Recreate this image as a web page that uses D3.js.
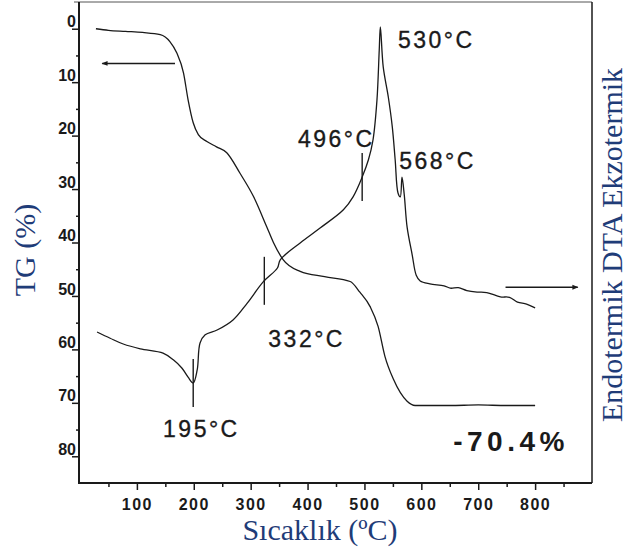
<!DOCTYPE html>
<html>
<head>
<meta charset="utf-8">
<script src="https://cdn.jsdelivr.net/npm/d3@7"></script>
<style>
  body { margin: 0; background: #fff; }
  svg { display: block; }
</style>
</head>
<body>
<svg id="chart" width="627" height="556"></svg>
<script>
// TG curve: temperature (°C) -> mass loss (%)
const tgTemp = [28, 50, 80, 110, 141, 158, 170, 182, 190, 199, 208, 223, 240, 258, 281, 305, 328, 340, 357, 387, 430, 475, 492, 510, 524, 536, 551, 575, 589, 650, 700, 750, 800];
const tgLoss = [0.0, 0.3, 0.5, 0.7, 1.1, 2.4, 4.5, 8.3, 13.3, 17.6, 19.8, 21.1, 22.1, 23.2, 27.0, 31.4, 37.0, 40.0, 43.2, 45.4, 46.4, 47.3, 49.3, 52.0, 55.7, 61.3, 65.6, 69.7, 70.5, 70.5, 70.4, 70.5, 70.5];

// DTA curve: temperature (°C) -> signal (a.u., exo up)
const dtaTemp = [30, 53, 76, 106, 146, 164, 179, 190, 199, 206, 211, 220, 241, 269, 294, 322, 347, 352, 387, 422, 463, 480, 496, 507, 515, 522, 526, 528, 533, 542, 549, 554, 559, 563, 566, 570, 575, 584, 591, 598, 615, 640, 651, 665, 680, 698, 715, 739, 755, 769, 785, 800];
const dtaSignal = [31.4, 30.1, 28.9, 27.9, 27.0, 25.6, 23.9, 22.0, 20.8, 23.5, 29.1, 30.8, 31.8, 33.9, 37.4, 41.8, 44.7, 46.4, 49.9, 53.0, 56.8, 59.5, 63.6, 67.2, 71.3, 79.6, 90.0, 94.8, 86.5, 80.2, 74.0, 67.2, 60.3, 59.5, 63.6, 59.9, 53.2, 47.4, 43.2, 42.0, 41.4, 41.0, 40.5, 40.6, 40.0, 39.7, 39.6, 38.7, 38.6, 37.6, 37.2, 36.4];

const xTicks = [100, 200, 300, 400, 500, 600, 700, 800];
const xMinorTicks = [50, 150, 250, 350, 450, 550, 650, 750, 850];
const yTicks = [0, 10, 20, 30, 40, 50, 60, 70, 80];
const yMinorTicks = [5, 15, 25, 35, 45, 55, 65, 75];

// DTA events marked with short vertical bars
const markerTemps = [199, 324, 496];

// text annotations: label, temperature, DTA level
const peakLabels = ["530°C", "496°C", "568°C", "332°C", "195°C"];
const peakLabelT = [559, 383, 561, 331, 146];
const peakLabelS = [90.4, 69.9, 65.3, 28.3, 9.6];

const svg = d3.select("#chart");

const x = d3.scaleLinear().domain([0, 900]).range([80, 592]);
const yTG = d3.scaleLinear().domain([-5, 85]).range([2, 483]);
const yDTA = d3.scaleLinear().domain([0, 100]).range([483, 2]);

const ink = "#1a1a1a";
const navy = "#1f3c78";

// frame
svg.append("line").attr("x1", 74).attr("x2", x(900)).attr("y1", 2).attr("y2", 2)
  .attr("stroke", "#555").attr("stroke-width", 1);
svg.append("line").attr("x1", x(900)).attr("x2", x(900)).attr("y1", 2).attr("y2", 483)
  .attr("stroke", ink).attr("stroke-width", 1.5);

// x axis
const gx = svg.append("g").attr("transform", "translate(0,483)")
  .call(d3.axisBottom(x).tickValues(xTicks).tickSize(7).tickFormat(d3.format("d")));
gx.select(".domain").remove();
gx.selectAll(".tick line").attr("stroke", ink).attr("stroke-width", 1.5);
gx.selectAll("text")
  .attr("y", 27).attr("dy", 0)
  .attr("fill", ink)
  .style("font-family", "'Liberation Sans', Arial, sans-serif")
  .style("font-weight", "bold")
  .style("font-size", "16px")
  .style("letter-spacing", "1.5px");

const gxm = svg.append("g").attr("transform", "translate(0,483)")
  .call(d3.axisBottom(x).tickValues(xMinorTicks).tickSize(4).tickFormat(""));
gxm.select(".domain").remove();
gxm.selectAll(".tick line").attr("stroke", ink).attr("stroke-width", 1.5);

svg.append("line").attr("x1", 79).attr("x2", x(900)).attr("y1", 483).attr("y2", 483)
  .attr("stroke", ink).attr("stroke-width", 2);

// y axis (TG)
const gy = svg.append("g").attr("transform", "translate(79,0)")
  .call(d3.axisLeft(yTG).tickValues(yTicks).tickSize(7).tickFormat(d3.format("d")));
gy.select(".domain").remove();
gy.selectAll(".tick line").attr("stroke", ink).attr("stroke-width", 1.5);
gy.selectAll("text")
  .attr("x", -3).attr("y", -7)
  .attr("fill", ink)
  .style("font-family", "'Liberation Sans', Arial, sans-serif")
  .style("font-weight", "bold")
  .style("font-size", "16px");

const gym = svg.append("g").attr("transform", "translate(79,0)")
  .call(d3.axisLeft(yTG).tickValues(yMinorTicks).tickSize(3).tickFormat(""));
gym.select(".domain").remove();
gym.selectAll(".tick line").attr("stroke", ink).attr("stroke-width", 1.5);

svg.append("line").attr("x1", 79).attr("x2", 79).attr("y1", 2).attr("y2", 484)
  .attr("stroke", ink).attr("stroke-width", 2);

// curves
const tgLine = d3.line()
  .x(function(d, i) { return x(tgTemp[i]); })
  .y(function(d) { return yTG(d); })
  .curve(d3.curveMonotoneX);

svg.append("path").datum(tgLoss)
  .attr("d", tgLine)
  .attr("fill", "none").attr("stroke", ink).attr("stroke-width", 1.3);

const dtaLine = d3.line()
  .x(function(d, i) { return x(dtaTemp[i]); })
  .y(function(d) { return yDTA(d); })
  .curve(d3.curveCatmullRom.alpha(0.5));

svg.append("path").datum(dtaSignal)
  .attr("d", dtaLine)
  .attr("fill", "none").attr("stroke", ink).attr("stroke-width", 1.3);

// event markers on the DTA curve
function dtaAt(t) {
  const i = d3.bisectLeft(dtaTemp, t);
  if (i <= 0) return dtaSignal[0];
  const t0 = dtaTemp[i - 1], t1 = dtaTemp[i];
  return dtaSignal[i - 1] + (dtaSignal[i] - dtaSignal[i - 1]) * (t - t0) / (t1 - t0);
}
svg.selectAll(".marker").data(markerTemps).enter().append("line")
  .attr("class", "marker")
  .attr("x1", function(d) { return x(d); })
  .attr("x2", function(d) { return x(d); })
  .attr("y1", function(d) { return yDTA(dtaAt(d)) - 24; })
  .attr("y2", function(d) { return yDTA(dtaAt(d)) + 24; })
  .attr("stroke", ink).attr("stroke-width", 1.4);

// arrows pointing to each curve's axis
const defs = svg.append("defs");
defs.append("marker").attr("id", "head")
  .attr("viewBox", "0 0 10 10").attr("refX", 9).attr("refY", 5)
  .attr("markerWidth", 8).attr("markerHeight", 6).attr("orient", "auto")
  .attr("markerUnits", "userSpaceOnUse")
  .append("path").attr("d", "M0,1L10,5L0,9Z").attr("fill", ink);

svg.append("line")
  .attr("x1", x(167)).attr("x2", x(39)).attr("y1", yTG(6.5)).attr("y2", yTG(6.5))
  .attr("stroke", ink).attr("stroke-width", 1.5).attr("marker-end", "url(#head)");
svg.append("line")
  .attr("x1", x(748)).attr("x2", x(875)).attr("y1", yDTA(40.7)).attr("y2", yDTA(40.7))
  .attr("stroke", ink).attr("stroke-width", 1.5).attr("marker-end", "url(#head)");

// peak labels
svg.selectAll(".peak").data(peakLabels).enter().append("text")
  .attr("class", "peak")
  .attr("x", function(d, i) { return x(peakLabelT[i]); })
  .attr("y", function(d, i) { return yDTA(peakLabelS[i]); })
  .attr("fill", ink)
  .attr("stroke", ink).attr("stroke-width", 0.35)
  .style("font-family", "'Liberation Sans', Arial, sans-serif")
  .style("font-size", "23px")
  .style("letter-spacing", "2.5px")
  .text(function(d) { return d; });

svg.append("text")
  .attr("x", x(656)).attr("y", yTG(79.1))
  .attr("fill", ink)
  .style("font-family", "'Liberation Sans', Arial, sans-serif")
  .style("font-weight", "bold")
  .style("font-size", "28px")
  .style("letter-spacing", "4.5px")
  .text("-70.4%");

// axis titles
const serif = "'Liberation Serif', 'Times New Roman', serif";
svg.append("text")
  .attr("transform", "translate(35,250) rotate(-90)")
  .attr("text-anchor", "middle")
  .attr("fill", navy)
  .style("font-family", serif).style("font-size", "30px")
  .text("TG (%)");

svg.append("text")
  .attr("transform", "translate(622,245) rotate(-90)")
  .attr("text-anchor", "middle")
  .attr("fill", navy)
  .style("font-family", serif).style("font-size", "30px")
  .text("Endotermik DTA Ekzotermik");

svg.append("text")
  .attr("x", 320).attr("y", 540)
  .attr("text-anchor", "middle")
  .attr("fill", navy)
  .style("font-family", serif).style("font-size", "30px")
  .text("Sıcaklık (ºC)");
</script>
</body>
</html>
